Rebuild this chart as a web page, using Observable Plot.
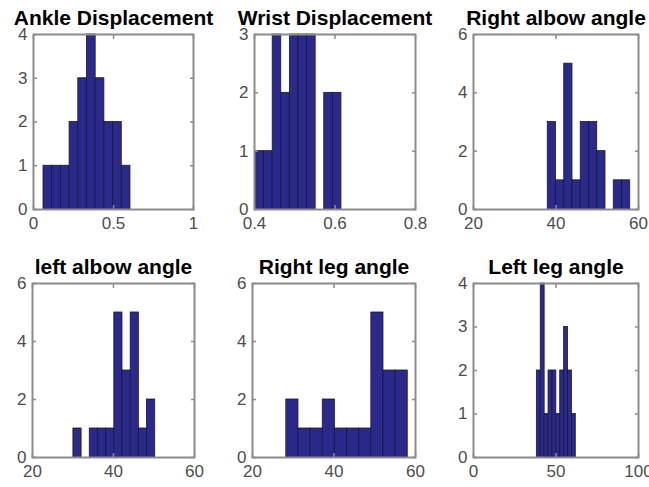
<!DOCTYPE html>
<html>
<head>
<meta charset="utf-8">
<script src="https://cdn.jsdelivr.net/npm/d3@7"></script>
<script src="https://cdn.jsdelivr.net/npm/@observablehq/plot@0.6"></script>
<style>
  html, body { margin: 0; padding: 0; background: #fff; overflow: hidden; }
  #wrap { position: relative; width: 649px; height: 487px; }
  #wrap > div, #wrap > svg { position: absolute; }
</style>
</head>
<body>
<div id="wrap"></div>
<script>
// ---- data (10-bin histograms, 20 samples each) ----
const titles = ["Ankle Displacement", "Wrist Displacement", "Right albow angle",
                "left albow angle", "Right leg angle", "Left leg angle"];

const ankleCounts      = [1, 1, 1, 2, 3, 4, 3, 2, 2, 1];
const ankleRange       = [0.0625, 0.606];
const wristCounts      = [1, 1, 3, 2, 3, 3, 3, 0, 2, 2];
const wristRange       = [0.4025, 0.616];
const rightElbowCounts = [3, 1, 5, 1, 3, 3, 2, 0, 1, 1];
const rightElbowRange  = [38.0, 58.0];
const leftElbowCounts  = [1, 0, 1, 1, 1, 5, 3, 5, 1, 2];
const leftElbowRange   = [30.1, 50.3];
const rightLegCounts   = [2, 1, 1, 2, 1, 1, 1, 5, 3, 3];
const rightLegRange    = [28.3, 58.1];
const leftLegCounts    = [2, 4, 1, 2, 2, 1, 2, 3, 2, 1];
const leftLegRange     = [38.4, 62.0];

const xDomains = [[0, 1], [0.4, 0.8], [20, 60], [20, 60], [20, 60], [0, 100]];
const xTicks   = [[0, 0.5, 1], [0.4, 0.6, 0.8], [20, 40, 60], [20, 40, 60], [20, 40, 60], [0, 50, 100]];
const yMax     = [4, 3, 6, 6, 6, 4];
const yTicks   = [[0, 1, 2, 3, 4], [0, 1, 2, 3], [0, 2, 4, 6], [0, 2, 4, 6], [0, 2, 4, 6], [0, 1, 2, 3, 4]];

const allCounts = [ankleCounts, wristCounts, rightElbowCounts, leftElbowCounts, rightLegCounts, leftLegCounts];
const allRanges = [ankleRange, wristRange, rightElbowRange, leftElbowRange, rightLegRange, leftLegRange];

// ---- layout (frame boxes in page pixels) ----
const boxes = [
  [33, 34, 193, 209], [254, 34, 415, 209], [473, 34, 638, 209],
  [32, 283, 194, 457], [252, 283, 415, 457], [473, 283, 638, 457]
];
const mL = 36, mT = 40, mR = 14, mB = 30;

const wrap = document.getElementById("wrap");
const barFill = "#2b2a8a", barEdge = "#17163f", frameCol = "#8c8c8c", tickText = "#4d4d4d";

allCounts.forEach((counts, i) => {
  const [lo, hi] = allRanges[i];
  const n = counts.length;
  const w = (hi - lo) / n;
  const bins = counts.map((c, j) => ({x1: lo + j * w, x2: lo + (j + 1) * w, count: c})).filter(d => d.count > 0);
  const [bx0, by0, bx1, by1] = boxes[i];
  const width = (bx1 - bx0) + mL + mR;
  const height = (by1 - by0) + mT + mB;
  const fmt = d => String(d);
  const chart = Plot.plot({
    width, height,
    marginLeft: mL, marginTop: mT, marginRight: mR, marginBottom: mB,
    x: {domain: xDomains[i]},
    y: {domain: [0, yMax[i]]},
    style: {fontFamily: "'Liberation Sans', Arial, sans-serif", fontSize: "17px", background: "transparent", overflow: "visible"},
    marks: [
      Plot.rectY(bins, {x1: "x1", x2: "x2", y1: 0, y2: "count", fill: barFill, stroke: barEdge, strokeWidth: 0.8, inset: 0}),
      Plot.axisX({ticks: xTicks[i], tickSize: -4, tickPadding: 11, tickFormat: fmt, label: null, stroke: frameCol, fill: tickText, strokeWidth: 1.5}),
      Plot.axisX({ticks: xTicks[i], anchor: "top", tickSize: -4, tickFormat: () => "", label: null, stroke: frameCol, strokeWidth: 1.5}),
      Plot.axisY({ticks: yTicks[i], tickSize: -4, tickPadding: 10, tickFormat: fmt, label: null, stroke: frameCol, fill: tickText, strokeWidth: 1.5}),
      Plot.axisY({ticks: yTicks[i], anchor: "right", tickSize: -4, tickFormat: () => "", label: null, stroke: frameCol, strokeWidth: 1.5}),
      Plot.frame({stroke: frameCol, strokeWidth: 2}),
      Plot.text([titles[i]], {frameAnchor: "top", dy: -10, lineAnchor: "bottom", fontWeight: "bold", fontSize: 21, fill: "#000"})
    ]
  });
  chart.style.left = (bx0 - mL) + "px";
  chart.style.top = (by0 - mT) + "px";
  wrap.appendChild(chart);
});
</script>
</body>
</html>
